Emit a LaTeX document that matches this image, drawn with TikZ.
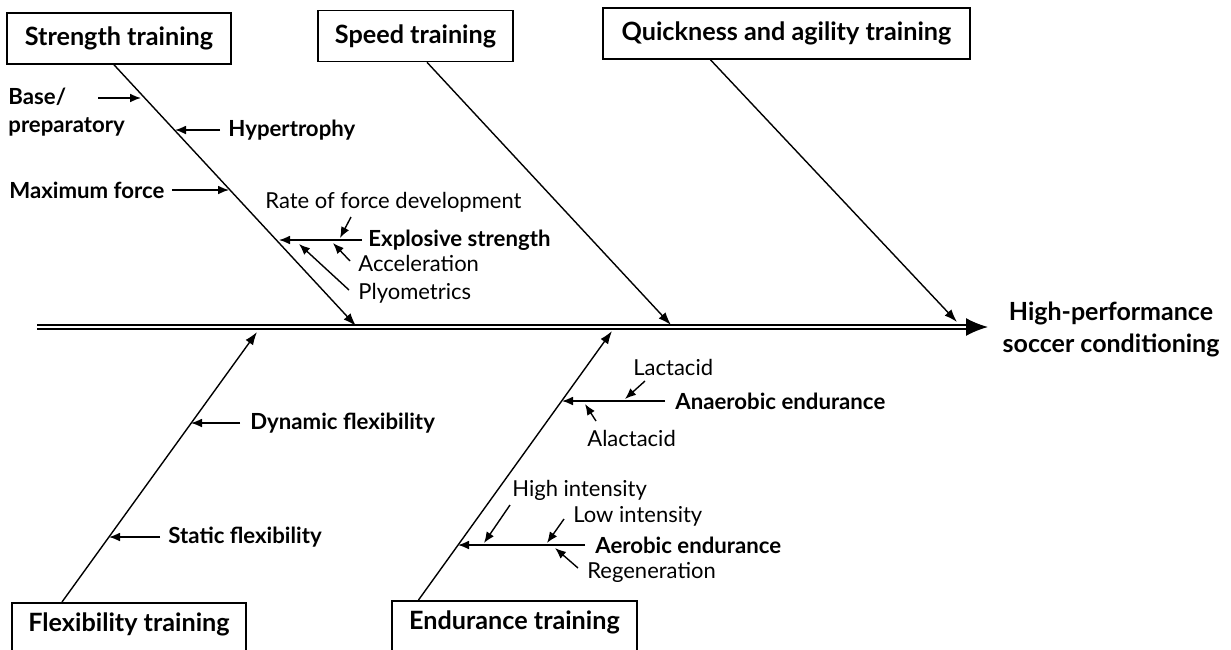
\documentclass[tikz,border=0pt]{standalone}
\usepackage{fontspec}
\setmainfont{Lato}
\usetikzlibrary{arrows.meta,calc}

\begin{document}
\begin{tikzpicture}[
  x=0.5pt, y=-0.5pt,
  catbox/.style={draw, line width=0.8pt, align=center, minimum height=25.5pt, inner sep=0pt, font=\fontsize{12.6}{14}\selectfont\bfseries},
  lbl/.style={anchor=west, inner sep=0pt, font=\fontsize{11}{13}\selectfont},
  blbl/.style={anchor=west, inner sep=0pt, font=\fontsize{11.1}{14}\selectfont\bfseries},
  bone/.style={line width=0.7pt, -{Latex[length=6.5pt,width=4.6pt]}},
  rib/.style={line width=0.7pt, -{Latex[length=5.5pt,width=4.4pt]}},
  spine/.style={double, double distance=1pt, line width=0.8pt, -{Latex[length=11pt,width=9pt]}}
]
\useasboundingbox (0,0) rectangle (1231,649);
\clip (0,0) rectangle (1231,649);

% categories
\node[catbox, minimum width=112pt] (strength) at (119,38.5) {Strength training};
\node[catbox, minimum width=97.5pt] (speed) at (415.5,36) {Speed training};
\node[catbox, minimum width=183.5pt] (quick) at (786.5,33.5) {Quickness and agility training};
\node[catbox, minimum width=117pt, anchor=north, text depth=20pt, minimum height=0pt, inner ysep=5pt] (flex) at (129,602) {Flexibility training};
\node[catbox, minimum width=122.5pt, anchor=north, text depth=20pt, minimum height=0pt, inner ysep=5pt] (endur) at (514.5,600) {Endurance training};

\node[align=center, inner sep=0pt, font=\fontsize{12.5}{16}\selectfont\bfseries] (goal) at (1111,329) {High-performance\\soccer conditioning};

% spine and bones
\coordinate (spL) at (37,327);
\coordinate (spR) at (988,327);
\draw[spine] (spL) -- (spR);

\coordinate (sT) at (356,326);
\coordinate (spT) at (671,325);
\coordinate (qT) at (957,322);
\coordinate (fT) at (257,332);
\coordinate (eT) at (612,331);
\draw[bone] ([xshift=-2.5pt]strength.south) -- (sT);
\draw[bone] ([xshift=5.75pt]speed.south) -- (spT);
\draw[bone] ([xshift=-38pt]quick.south) -- (qT);
\draw[bone] ([xshift=-33.5pt]flex.north) -- (fT);
\draw[bone] ([xshift=-48pt]endur.north) -- (eT);

% strength
\node[blbl, align=left] (base) at (8,112) {Base/\\preparatory};
\node[blbl] (hyper) at (228,130) {Hypertrophy};
\node[blbl] (maxf) at (9,190) {Maximum force};
\node[lbl] (rfd) at (265,202) {Rate of force development};
\node[blbl] (expl) at (368,240) {Explosive strength};
\node[lbl] (acc) at (358,263) {Acceleration};
\node[lbl] (plyo) at (358,293) {Plyometrics};

\coordinate (baseA) at (98,98);
\coordinate (baseT) at (141,98);
\coordinate (hypT) at (175,130);
\coordinate (maxT) at (229,190);
\coordinate (explT) at (279,240);
\coordinate (rfdA) at (351,217);
\coordinate (rfdT) at (340,238);
\coordinate (accA) at (350,261);
\coordinate (accT) at (333,243);
\coordinate (plyA) at (349,290);
\coordinate (plyT) at (299,244);
\draw[rib] (baseA) -- (baseT);
\draw[rib] ([xshift=-4pt]hyper.west) -- (hypT);
\draw[rib] ([xshift=3.5pt]maxf.east) -- (maxT);
\draw[rib] ([xshift=-3pt]expl.west) -- (explT);
\draw[rib] (rfdA) -- (rfdT);
\draw[rib] (accA) -- (accT);
\draw[rib] (plyA) -- (plyT);

% flexibility
\node[blbl] (dyn) at (250,423) {Dynamic flexibility};
\node[blbl] (stat) at (168,537) {Static flexibility};
\coordinate (dynT) at (191,423);
\coordinate (statT) at (109,537);
\draw[rib] ([xshift=-5pt]dyn.west) -- (dynT);
\draw[rib] ([xshift=-4pt]stat.west) -- (statT);

% endurance
\node[blbl] (anae) at (675,401) {Anaerobic endurance};
\node[lbl] (lact) at (633,367) {Lactacid};
\node[lbl] (alac) at (587,438) {Alactacid};
\node[blbl] (aero) at (595,545) {Aerobic endurance};
\node[lbl] (hi) at (512,490) {High intensity};
\node[lbl] (lo) at (573,516) {Low intensity};
\node[lbl] (regen) at (587,572) {Regeneration};

\coordinate (anaeT) at (562,401);
\coordinate (lactA) at (645,381);
\coordinate (lactT) at (625,399);
\coordinate (alacA) at (596,421);
\coordinate (alacT) at (585,404);
\coordinate (aeroT) at (458,545);
\coordinate (hiA) at (510,505);
\coordinate (hiT) at (484,543);
\coordinate (loA) at (564,519);
\coordinate (loT) at (547,543);
\coordinate (regA) at (578,568);
\coordinate (regT) at (555,548);
\draw[rib] ([xshift=-5pt]anae.west) -- (anaeT);
\draw[rib] (lactA) -- (lactT);
\draw[rib] (alacA) -- (alacT);
\draw[rib] ([xshift=-5pt]aero.west) -- (aeroT);
\draw[rib] (hiA) -- (hiT);
\draw[rib] (loA) -- (loT);
\draw[rib] (regA) -- (regT);

\end{tikzpicture}
\end{document}
